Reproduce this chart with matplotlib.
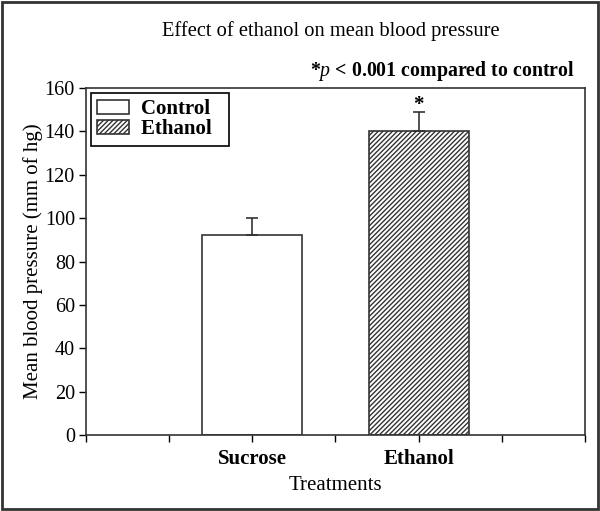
import matplotlib
matplotlib.use('Agg')
import matplotlib.pyplot as plt
from matplotlib.patches import Rectangle

plt.rcParams['font.family'] = 'Liberation Serif'
plt.rcParams['mathtext.fontset'] = 'custom'
plt.rcParams['mathtext.it'] = 'Liberation Serif:italic'
plt.rcParams['mathtext.rm'] = 'Liberation Serif'
plt.rcParams['hatch.linewidth'] = 1.0

# data
treatments = ['Sucrose', 'Ethanol']
means = [92, 140]
errors = [8, 9]
positions = [2, 4]
legend_names = ['Control', 'Ethanol']

fig = plt.figure(figsize=(6.0, 5.11), dpi=100)
ax = fig.add_axes([0.1433, 0.1487, 0.8317, 0.6791])

ax.bar(positions[0], means[0], width=1.2, color='white', edgecolor='#333333',
       linewidth=1.2, label=legend_names[0] + '  ', zorder=2)
ax.bar(positions[1], means[1], width=1.2, color='white', edgecolor='#333333',
       linewidth=1.2, hatch='///////', label=legend_names[1] + '  ', zorder=2)
ax.errorbar(positions, means, yerr=[[0, 0], errors], fmt='none', ecolor='#333333',
            elinewidth=1.2, capsize=4, capthick=1.2, zorder=3)

# significance star
ax.text(positions[1], means[1] + errors[1] - 1.5, '*', ha='center', va='bottom',
        fontsize=15, fontweight='bold')

ax.set_xlim(0, 6)
ax.set_ylim(0, 160)
ax.set_xticks(range(0, 7))
ax.set_xticklabels(['', '', treatments[0], '', treatments[1], '', ''],
                   fontsize=15, fontweight='bold')
ax.set_yticks(range(0, 161, 20))
ax.tick_params(axis='y', labelsize=14.5, direction='out', length=5, width=1, pad=3)
ax.tick_params(axis='x', direction='out', length=5, width=1, pad=5)
for s in ax.spines.values():
    s.set_linewidth(1.2)
    s.set_color('#333333')

ax.set_ylabel('Mean blood pressure (mm of hg)', fontsize=15, labelpad=1)
ax.set_xlabel('Treatments', fontsize=15, labelpad=5)

leg = ax.legend(loc='upper left', prop={'weight': 'bold', 'size': 15},
                fancybox=False, edgecolor='black', framealpha=1,
                handlelength=1.5, handleheight=0.6, handletextpad=0.6,
                borderaxespad=0.25, borderpad=0.3, labelspacing=0.0)
leg.get_frame().set_linewidth(1.2)

fig.text(0.552, 0.94, 'Effect of ethanol on mean blood pressure', ha='center',
         va='center', fontsize=14.8)
fig.text(0.958, 0.862, r'*$\it{p}$ < 0.001 compared to control', ha='right',
         va='center', fontsize=14.3, fontweight='bold')

fig.patches.append(Rectangle((0.003, 0.003), 0.994, 0.994, transform=fig.transFigure,
                             fill=False, edgecolor='#333333', linewidth=2))

fig.savefig('out.png', dpi=100)
